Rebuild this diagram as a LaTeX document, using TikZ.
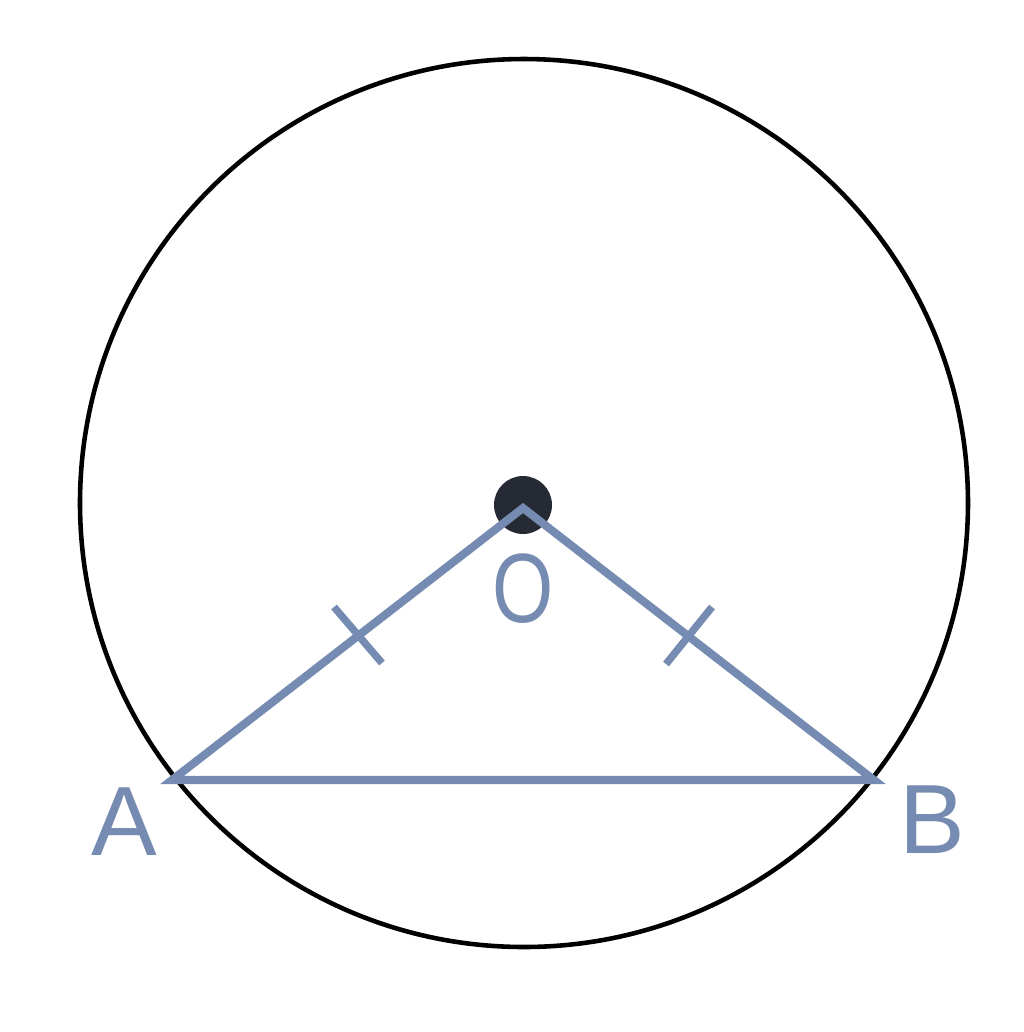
\documentclass[tikz,border=0pt]{standalone}
\usepackage{fontspec}
\setmainfont{Liberation Sans}
\definecolor{segblue}{RGB}{118,139,178}
\definecolor{dotdark}{RGB}{38,42,52}
\begin{document}
\begin{tikzpicture}[x=0.01cm,y=-0.01cm,
  seg/.style={draw=segblue,line width=2.3pt,line join=miter},
  tickmark/.style={draw=segblue,line width=2.1pt},
  ring/.style={draw=black,line width=1.3pt},
  lbl/.style={text=segblue,font=\fontsize{28}{32}\selectfont,inner sep=0pt}]
\useasboundingbox[fill=white] (0,0) rectangle (1024,1032);
\coordinate (C) at (524,503);
\draw[ring] (C) circle[radius=444];
\fill[dotdark] (523,505) circle[radius=29];
\coordinate (O) at (523,508);
\coordinate (A) at (172,780);
\coordinate (B) at (874,780);
\draw[seg] (A) -- (O) -- (B) -- cycle;
\draw[tickmark] (334,607) -- (382,663);
\draw[tickmark] (712,607) -- (666,664);
\node[lbl,xscale=0.8] (lO) at (523,589) {O};
\node[lbl] (lA) at (124,822) {A};
\node[lbl] (lB) at (932,820) {B};
\end{tikzpicture}
\end{document}
